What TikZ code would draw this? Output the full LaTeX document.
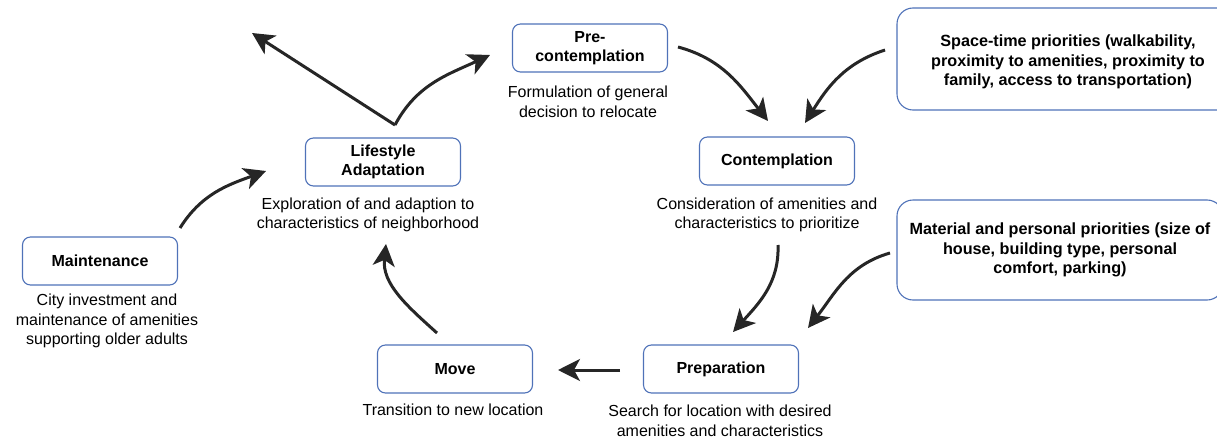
\documentclass[tikz,border=0pt]{standalone}
\usepackage{fontspec}
\setmainfont{Liberation Sans}
\usetikzlibrary{arrows.meta}
\definecolor{boxblue}{HTML}{4F72B8}
\definecolor{arrowgray}{HTML}{262626}
\begin{document}
\begin{tikzpicture}[x=1pt,y=1pt,
  stage/.style={draw=boxblue, line width=1.1pt, rounded corners=8pt,
    minimum width=155pt, minimum height=48pt, align=center, inner sep=2pt,
    font=\fontsize{16}{19.5}\selectfont\bfseries},
  prio/.style={draw=boxblue, line width=1.1pt, rounded corners=16pt,
    inner sep=0pt},
  priotext/.style={align=center, inner sep=0pt,
    font=\fontsize{16.2}{19.5}\selectfont\bfseries},
  desc/.style={align=center, inner sep=0pt, font=\fontsize{16}{19.5}\selectfont},
  conn/.style={draw=arrowgray, line width=3pt,
    -{Stealth[length=22pt,width=22pt,inset=6pt]}}]
\useasboundingbox (0,0) rectangle (1217,-441);
\clip (0,0) rectangle (1217,-441);

% stage boxes
\node[stage] (pre)  at (590,-48)  {Pre-\\contemplation};
\node[stage] (con)  at (777,-161) {Contemplation};
\node[stage] (life) at (383,-162) {Lifestyle\\Adaptation};
\node[stage] (main) at (100,-261) {Maintenance};
\node[stage] (move) at (455,-369) {Move};
\node[stage] (prep) at (721,-369) {Preparation};

% priority boxes
\node[prio, minimum width=342pt, minimum height=102pt] (space) at (1068,-59) {};
\node[priotext] (spacetext) at (1068,-62)
  {Space-time priorities (walkability,\\proximity to amenities, proximity to\\family, access to transportation)};
\node[prio, minimum width=326pt, minimum height=100pt] (mat) at (1060,-250) {};
\node[priotext] (mattext) at (1060,-250)
  {Material and personal priorities (size of\\house, building type, personal\\comfort, parking)};

% descriptions
\node[desc] (dpre)  at (588,-102) {Formulation of general\\decision to relocate};
\node[desc] (dlife) at (368,-215) {Exploration of and adaption to\\characteristics of neighborhood};
\node[desc] (dcon)  at (767,-215) {Consideration of amenities and\\characteristics to prioritize};
\node[desc] (dmain) at (107,-321) {City investment and\\maintenance of amenities\\supporting older adults};
\node[desc] (dmove) at (453,-410) {Transition to new location};
\node[desc] (dprep) at (720,-421) {Search for location with desired\\amenities and characteristics};

% connector end points
\coordinate (vtx)   at (395,-125);
\coordinate (out1)  at (252,-33);
\coordinate (tpre)  at (490,-55);
\coordinate (spre)  at (678,-47);
\coordinate (tcon1) at (768,-121);
\coordinate (sspa)  at (885,-50);
\coordinate (tcon2) at (805,-123);
\coordinate (scon)  at (778,-245);
\coordinate (tprep1) at (733,-332);
\coordinate (smat)  at (890,-253);
\coordinate (tprep2) at (808,-328);
\coordinate (sprep) at (620,-370);
\coordinate (tmove) at (558,-370);
\coordinate (smove) at (437,-333);
\coordinate (tlife1) at (386,-244);
\coordinate (smain) at (180,-228);
\coordinate (tlife2) at (266,-171);

% connectors
\draw[conn] (vtx) -- (out1);
\draw[conn] (vtx) to[out=62,in=205] (tpre);
\draw[conn] (spre) to[out=-15,in=128] (tcon1);
\draw[conn] (sspa) to[out=198,in=58] (tcon2);
\draw[conn] (scon) to[out=-88,in=48] (tprep1);
\draw[conn] (smat) to[out=196,in=52] (tprep2);
\draw[conn] (sprep) -- (tmove);
\draw[conn] (smove) to[out=138,in=-96] (tlife1);
\draw[conn] (smain) to[out=58,in=200] (tlife2);
\end{tikzpicture}
\end{document}
